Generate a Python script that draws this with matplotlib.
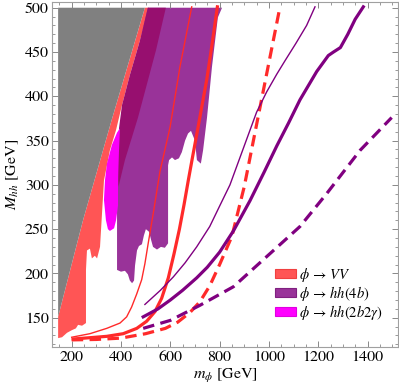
import matplotlib
matplotlib.use("Agg")
from matplotlib import pyplot as plt
from matplotlib.patches import Patch
from matplotlib.ticker import MultipleLocator

plt.rcParams['font.family'] = 'STIXGeneral'
plt.rcParams['mathtext.fontset'] = 'stix'

# excluded regions (m_phi, M_hh) in GeV
gray_m = [145, 145, 497, 362, 246]
gray_M = [151, 500, 500, 373, 260]

vv_m = [145, 145, 246, 362, 497, 513, 477, 436, 404, 380, 355, 331, 319, 315, 303,
        294, 282, 274, 262, 258, 258, 242, 226, 217, 201, 181, 161, 145]
vv_M = [127, 151, 260, 373, 500, 500, 463, 424, 390, 362, 339, 305, 249, 230, 217,
        220, 217, 228, 226, 204, 144, 141, 142, 138, 136, 133, 128, 127]

hh4b_m = [509, 810, 793, 769, 749, 733, 724, 708, 700, 684, 672, 660, 647, 635, 619,
          607, 595, 591, 591, 578, 562, 546, 530, 522, 514, 501, 493, 485, 473, 465,
          457, 453, 445, 436, 428, 416, 400, 384, 384, 396]
hh4b_M = [500, 500, 489, 433, 376, 339, 324, 328, 350, 361, 358, 350, 337, 330, 328,
          331, 328, 322, 234, 229, 230, 227, 230, 238, 247, 250, 243, 233, 231, 226,
          209, 192, 189, 192, 199, 203, 202, 204, 283, 364]

overlap_m = [509, 582, 542, 469, 416, 390, 386, 392, 404, 436, 477]
overlap_M = [500, 500, 452, 376, 328, 298, 330, 364, 390, 424, 463]

hh2b2g_m = [396, 392, 388, 388, 380, 372, 355, 347, 339, 331, 335, 343, 363, 384]
hh2b2g_M = [364, 339, 305, 277, 260, 251, 248, 250, 260, 283, 305, 324, 345, 359]

# projected limits
vv_thin_m = [200, 274, 342, 396, 423, 443, 464, 484, 497, 511, 531, 558, 599, 639, 687]
vv_thin_M = [128, 132, 138, 144, 151, 162, 177, 193, 211, 235, 268, 315, 365, 433, 501]

vv_thick_m = [206, 275, 342, 409, 464, 504, 538, 565, 592, 615, 637, 656, 673, 690,
              708, 727, 748, 768, 791]
vv_thick_M = [126, 127.5, 129, 132, 138, 146, 157, 172, 195, 222, 250, 278, 305, 331,
              358, 387, 419, 456, 501]

vv_dash_m = [200, 300, 400, 500, 580, 630, 680, 720, 760, 800, 850, 900, 950, 1000, 1045]
vv_dash_M = [125, 125.5, 127, 132, 138, 145, 156, 168, 186, 210, 242, 298, 368, 438, 501]

hh_thin_m = [497, 560, 612, 660, 707, 760, 800, 842, 896, 950, 991, 1032, 1065, 1110,
             1153, 1187]
hh_thin_M = [165, 181, 196, 212, 230, 253, 276, 300, 341, 382, 405, 425, 440, 460, 480, 501]

hh_thick_m = [490, 550, 600, 650, 707, 750, 800, 856, 923, 980, 1032, 1080, 1126, 1194,
              1241, 1262, 1290, 1320, 1350, 1383]
hh_thick_M = [151, 160, 170, 181, 195, 207, 224, 248, 282, 314, 344, 370, 396, 428, 446,
              450, 455, 470, 487, 501]

hh_dash_m = [490, 600, 720, 856, 991, 1126, 1234, 1370, 1498]
hh_dash_M = [138, 147, 164, 185, 219, 253, 290, 339, 376]

red_line = '#FF2A2A'
purple_line = '#800080'

fig = plt.figure(figsize=(3.99, 3.90), dpi=100)
ax = fig.add_axes([0.1296, 0.1110, 0.8687, 0.8851])

ax.fill(vv_m, vv_M, color='#FF5555', lw=0)
ax.fill(gray_m, gray_M, color='#808080', lw=0)
ax.fill(hh4b_m, hh4b_M, color='#993399', lw=0)
ax.fill(overlap_m, overlap_M, color='#970F6F', lw=0)
ax.fill(hh2b2g_m, hh2b2g_M, color='#FA00FA', lw=0)

ax.plot(vv_thin_m, vv_thin_M, color=red_line, lw=1.0)
ax.plot(vv_thick_m, vv_thick_M, color=red_line, lw=2.3)
ax.plot(vv_dash_m, vv_dash_M, color=red_line, lw=2.3, ls=(0, (3.6, 2.0)))
ax.plot(hh_thin_m, hh_thin_M, color=purple_line, lw=1.0)
ax.plot(hh_thick_m, hh_thick_M, color=purple_line, lw=2.3)
ax.plot(hh_dash_m, hh_dash_M, color=purple_line, lw=2.3, ls=(0, (3.6, 2.0)))

ax.set_xlim(119, 1525)
ax.set_ylim(117.3, 507)
ax.xaxis.set_major_locator(MultipleLocator(200))
ax.xaxis.set_minor_locator(MultipleLocator(50))
ax.yaxis.set_major_locator(MultipleLocator(50))
ax.yaxis.set_minor_locator(MultipleLocator(10))
ax.tick_params(which='both', direction='in', top=True, right=True, color='#888888',
               labelsize=11.5, pad=3)
ax.tick_params(which='major', length=4.5, width=0.7)
ax.tick_params(which='minor', length=2.2, width=0.6)
ax.tick_params(axis='y', pad=2)
for s in ax.spines.values():
    s.set_color('#A0A0A0')
    s.set_linewidth(0.8)

ax.set_xlabel(r'$m_\phi$ [GeV]', fontsize=11.5, labelpad=2)
ax.set_ylabel(r'$M_{hh}$ [GeV]', fontsize=11.5, labelpad=3)

handles = [Patch(facecolor='#FF5555', edgecolor='#F04040', lw=0.8),
           Patch(facecolor='#993399', edgecolor='#802080', lw=0.8),
           Patch(facecolor='#FF00FF', edgecolor='#E000E0', lw=0.8)]
labels = [r'$\phi\,\rightarrow\,VV$', r'$\phi\,\rightarrow\,hh(4b)$',
          r'$\phi\,\rightarrow\,hh(2b2\gamma)$']
ax.legend(handles, labels, loc='upper left', bbox_to_anchor=(0.645, 0.235),
          frameon=False, fontsize=10.5, borderpad=0, borderaxespad=0,
          handlelength=1.4, handleheight=0.6, handletextpad=0.25, labelspacing=0.0)

fig.savefig('out.png', dpi=100)
